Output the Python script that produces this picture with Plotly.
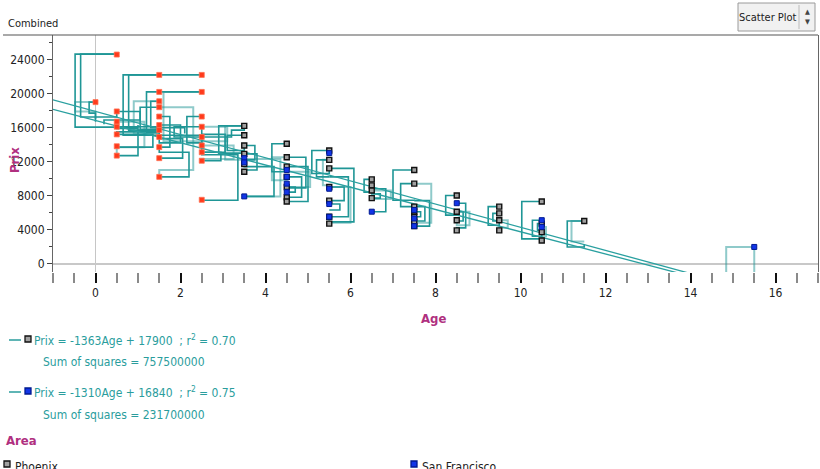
import plotly.graph_objects as go

# ---------------- data ----------------
orange_age = [0.0] + [0.5]*7 + [1.5]*11 + [2.5]*9
orange_prix = [19000,
               24600, 17900, 16700, 16100, 15200, 13800, 12700,
               22200, 20200, 19100, 18400, 17300, 16300, 15700, 14900, 13700, 12400, 10200,
               22200, 20200, 17300, 16100, 14900, 13900, 13100, 12100, 7500]

phoenix_age = [3.5]*6 + [4.5]*7 + [5.5]*7 + [6.5]*4 + [7.5]*7 + [8.5]*4 + [9.5]*4 + [10.5]*4 + [11.5]
phoenix_prix = [16200, 15100, 13900, 12900, 11700, 10800,
                14100, 12500, 11400, 10200, 9000, 7800, 7300,
                13300, 12200, 11200, 9000, 7400, 5500, 4700,
                9900, 9200, 8600, 7700,
                11000, 9400, 6700, 6100, 5500, 4900, 4400,
                8000, 6100, 5100, 3900,
                6700, 5900, 5100, 3900,
                7300, 4700, 3700, 2700,
                5000]

sf_age = [3.5]*3 + [4.5]*4 + [5.5]*4 + [6.5] + [7.5]*3 + [8.5] + [10.5]*2 + [15.5]
sf_prix = [12400, 11900, 7900,
           11000, 10200, 9400, 8400,
           13000, 8800, 7000, 5500,
           6100,
           6300, 5300, 4400,
           7100,
           5100, 4300,
           1950]

# connector boxes: (age, prix) -> corner (age, prix) -> (age, prix), drawn as steps
dark_boxes = [
    (0.5, 24650, -0.48, 16050, 1.0, 16300),
    (0.5, 24650, -0.35, 17250, 0.5, 17900),
    (0.0, 19000, -0.15, 17700, 0.0, 16700),
    (0.5, 17900, 1.05, 16900, 0.2, 16400),
    (0.5, 15200, 1.35, 13700, 0.5, 13800),
    (0.5, 12700, 1.0, 15900, 0.5, 16100),
    (0.5, 16100, 1.45, 15500, 0.5, 15200),
    (1.5, 22200, 0.65, 15100, 2.5, 14900),
    (2.5, 22200, 0.78, 15700, 1.5, 15700),
    (2.5, 20200, 1.2, 15400, 1.5, 15700),
    (1.5, 19100, 1.3, 16000, 2.1, 15300),
    (1.5, 18400, 1.05, 15800, 1.5, 16300),
    (1.5, 17300, 1.75, 13700, 1.5, 13700),
    (1.5, 16300, 2.0, 14200, 1.5, 14900),
    (1.5, 12400, 2.05, 14700, 1.5, 15700),
    (1.5, 10200, 2.2, 13100, 1.5, 13700),
    (2.5, 17300, 2.15, 14200, 2.5, 14900),
    (2.5, 16100, 1.85, 14900, 2.5, 13900),
    (2.5, 13100, 3.05, 15200, 2.5, 16100),
    (2.5, 7450, 3.35, 12800, 2.5, 13100),
    (2.5, 12100, 2.95, 13100, 2.5, 13900),
    (2.5, 14900, 3.2, 15700, 3.5, 16200),
    (3.5, 16200, 2.9, 13000, 3.5, 12900),
    (3.5, 15100, 3.1, 13300, 3.5, 13900),
    (3.5, 13900, 3.75, 12200, 3.5, 11700),
    (3.5, 12900, 3.8, 11000, 3.5, 10800),
    (3.5, 7900, 4.2, 11400, 3.5, 11700),
    (4.5, 14100, 4.15, 10800, 4.5, 11400),
    (4.5, 11400, 5.0, 7300, 4.5, 7300),
    (4.5, 10200, 4.85, 7800, 4.5, 7800),
    (4.5, 9000, 4.7, 8400, 4.5, 8400),
    (4.5, 12500, 4.95, 8900, 4.5, 9000),
    (5.5, 13300, 5.09, 10600, 5.5, 11200),
    (5.5, 12200, 5.2, 10200, 5.5, 10200),
    (5.5, 11200, 6.08, 4900, 5.5, 4700),
    (5.5, 10200, 5.95, 5500, 5.5, 5500),
    (5.5, 9000, 5.85, 7400, 5.5, 7400),
    (5.5, 7000, 5.75, 6300, 5.5, 6300),
    (6.5, 9900, 6.32, 8400, 6.5, 8600),
    (6.5, 6100, 6.83, 8800, 6.5, 9200),
    (6.5, 7700, 6.7, 8200, 6.5, 8600),
    (7.5, 11000, 7.0, 7450, 7.5, 7400),
    (7.5, 9400, 7.18, 6700, 7.5, 6700),
    (7.5, 7400, 7.86, 4400, 7.5, 4400),
    (7.5, 6700, 7.75, 5000, 7.5, 4900),
    (7.5, 6100, 7.65, 5500, 7.5, 5500),
    (8.5, 8000, 8.24, 5700, 8.5, 6100),
    (8.5, 7100, 8.71, 4200, 8.5, 3900),
    (8.5, 6100, 8.65, 5000, 8.5, 5100),
    (9.5, 6700, 9.24, 4500, 9.5, 5100),
    (9.5, 5900, 9.35, 5000, 9.5, 5100),
    (10.5, 7300, 10.03, 2900, 10.5, 2700),
    (10.5, 5100, 10.28, 3200, 10.5, 3700),
    (10.5, 4700, 10.4, 3900, 10.5, 4300),
    (11.5, 5000, 11.1, 1950, 11.5, 2300),
]

light_boxes = [
    (0.5, 16700, 1.15, 13700, 0.5, 13000),
    (0.0, 19000, -0.48, 17900, 0.0, 17000),
    (1.5, 19100, 0.9, 15300, 1.5, 15300),
    (1.5, 18400, 2.3, 11000, 1.5, 10200),
    (2.5, 20200, 1.6, 14400, 2.5, 14400),
    (2.5, 16100, 3.1, 14400, 2.5, 14400),
    (2.5, 13900, 3.25, 12300, 2.5, 12100),
    (3.5, 16200, 3.05, 12200, 3.5, 12400),
    (3.5, 7900, 4.35, 12300, 3.5, 12900),
    (4.5, 12500, 4.15, 9800, 4.5, 10200),
    (4.5, 9000, 5.05, 10800, 4.5, 11400),
    (5.5, 9000, 6.0, 4800, 5.5, 5500),
    (5.5, 12200, 5.35, 9200, 5.5, 9000),
    (6.5, 8600, 6.95, 7600, 6.5, 7700),
    (7.5, 9400, 7.9, 4800, 7.5, 5500),
    (8.5, 6100, 8.8, 4500, 8.5, 5100),
    (9.5, 5100, 9.7, 4200, 9.5, 3900),
    (10.5, 4300, 10.6, 3200, 10.5, 3700),
    (11.5, 5000, 11.2, 2600, 11.5, 2600),
    (15.5, -1500, 14.84, 1950, 15.5, -1500),
]

fit_slopes = [-1363, -1310]
fit_intercepts = [17900, 16840]
fit_r2 = ["0.70", "0.75"]
fit_ss = ["757500000", "231700000"]
x_span = [-1, 17]

# ---------------- styling ----------------
TEAL = "#1f9696"
FONT = "DejaVu Sans Condensed, Liberation Sans Narrow, Liberation Sans, Arial, sans-serif"
MAGENTA = "#b0307f"

L, R, T, B = 53, 2, 35, 197
W, H = 820, 469
PW, PH = W - L - R, H - T - B


def px(xp):
    return (xp - L) / PW


def py(yp):
    return (H - B - yp) / PH


def flatten(boxes):
    xs, ys = [], []
    for (x1, y1, xc, yc, x2, y2) in boxes:
        xs += [x1, xc, x2, None]
        ys += [y1, yc, y2, None]
    return xs, ys


fig = go.Figure()

lx, ly = flatten(light_boxes)
fig.add_trace(go.Scatter(x=lx, y=ly, mode="lines", line=dict(color="rgba(31,150,150,0.5)", width=2, shape="hv"),
                         connectgaps=False, hoverinfo="skip"))
dx, dy = flatten(dark_boxes)
fig.add_trace(go.Scatter(x=dx, y=dy, mode="lines", line=dict(color=TEAL, width=1.6, shape="hv"),
                         connectgaps=False, hoverinfo="skip"))

for s, b in zip(fit_slopes, fit_intercepts):
    fig.add_trace(go.Scatter(x=x_span, y=[s * v + b for v in x_span], mode="lines",
                             line=dict(color="#2aa0a0", width=1.3), hoverinfo="skip"))

fig.add_trace(go.Scatter(x=orange_age, y=orange_prix, mode="markers",
                         marker=dict(symbol="square", size=5, color="#ff3a1c",
                                     line=dict(color="#ff7050", width=0.8))))
fig.add_trace(go.Scatter(x=phoenix_age, y=phoenix_prix, mode="markers",
                         marker=dict(symbol="square", size=5, color="#a0a0a0",
                                     line=dict(color="#111111", width=1.4))))
fig.add_trace(go.Scatter(x=sf_age, y=sf_prix, mode="markers",
                         marker=dict(symbol="square", size=5, color="#1235e8",
                                     line=dict(color="#001a90", width=1))))

fig.update_layout(
    width=W, height=H, margin=dict(l=L, r=R, t=T, b=B, autoexpand=False),
    paper_bgcolor="white", plot_bgcolor="white", showlegend=False,
    font=dict(family=FONT, size=12, color="#222"),
    xaxis=dict(range=[-1, 17], tick0=0, dtick=2, ticks="outside", ticklen=10, tickwidth=2,
               tickcolor="#111", showgrid=False, zeroline=True, zerolinecolor="#c6c6c6",
               zerolinewidth=1, showline=False, automargin=False,
               tickfont=dict(family=FONT, size=12, color="#222"),
               minor=dict(dtick=0.5, tick0=0, ticks="outside", ticklen=10, tickwidth=2,
                          tickcolor="#8a8a8a")),
    yaxis=dict(range=[-1000, 26900], tick0=0, dtick=4000, tickformat="d", ticks="outside",
               ticklen=5, tickcolor="#444", showgrid=False, zeroline=True,
               zerolinecolor="#c8c8c8", zerolinewidth=2, showline=True, linecolor="#666",
               linewidth=1, mirror=True, automargin=False,
               tickfont=dict(family=FONT, size=12, color="#222"),
               minor=dict(dtick=2000, tick0=0, ticks="outside", ticklen=3, tickcolor="#444")),
)

LT = "#2a9d9d"
shapes = [
    # header separator line
    dict(type="line", xref="paper", yref="paper", x0=px(3), x1=px(818), y0=py(35), y1=py(35),
         line=dict(color="#555", width=1.2)),
    # Scatter Plot button
    dict(type="rect", xref="paper", yref="paper", x0=px(738), x1=px(815), y0=py(31), y1=py(3),
         fillcolor="#f1f1f1", line=dict(color="#9a9a9a", width=1), layer="above"),
    dict(type="line", xref="paper", yref="paper", x0=px(799), x1=px(799), y0=py(29), y1=py(5),
         line=dict(color="#bbbbbb", width=1), layer="above"),
]


def swatch(xc, yc, fc, lc):
    shapes.append(dict(type="rect", xref="paper", yref="paper", x0=px(xc - 3), x1=px(xc + 3),
                       y0=py(yc + 3), y1=py(yc - 3), fillcolor=fc, line=dict(color=lc, width=1.3)))


ann = []


def text(xp, yp, s, size=12, color="#222", bold=False, xanchor="left", textangle=0):
    ann.append(dict(xref="paper", yref="paper", x=px(xp), y=py(yp), text=("<b>%s</b>" % s) if bold else s,
                    showarrow=False, xanchor=xanchor, yanchor="middle", textangle=textangle,
                    font=dict(family=FONT, size=size, color=color)))


text(6, 24, "Combined", size=11, color="#222")
text(768, 17, "Scatter Plot", size=11, color="#222", xanchor="center")
text(807, 12, "▲", size=7, color="#444", xanchor="center")
text(807, 22, "▼", size=7, color="#444", xanchor="center")
text(14, 160, "Prix", size=13, color=MAGENTA, bold=True, xanchor="center", textangle=-90)
text(433, 318, "Age", size=13, color=MAGENTA, bold=True, xanchor="center")

rows = [(340, 362, "#a0a0a0", "#111"), (392, 415, "#1235e8", "#001a90")]
for i, (ya, yb, fc, lc) in enumerate(rows):
    sgn = "-" if fit_slopes[i] < 0 else ""
    shapes.append(dict(type="line", xref="paper", yref="paper", x0=px(9), x1=px(21), y0=py(ya), y1=py(ya),
                       line=dict(color=LT, width=1.5)))
    swatch(28, ya - 1, fc, lc)
    text(32, ya, "Prix = %s%dAge + %d  ; r<sup>2</sup> = %s" % (sgn, abs(fit_slopes[i]), fit_intercepts[i], fit_r2[i]),
         size=12, color=LT)
    text(41, yb, "Sum of squares = %s" % fit_ss[i], size=12, color=LT)

text(4, 440, "Area", size=13, color=MAGENTA, bold=True)
swatch(7, 464, "#a0a0a0", "#111")
swatch(414, 464, "#1235e8", "#001a90")
text(13, 467, "Phoenix", size=12, color="#222")
text(420, 467, "San Francisco", size=12, color="#222")

fig.update_layout(annotations=ann, shapes=shapes)
fig.write_html("out.html", config={"displayModeBar": False},
               post_script="document.body.style.margin='0';document.body.style.overflow='hidden';")
